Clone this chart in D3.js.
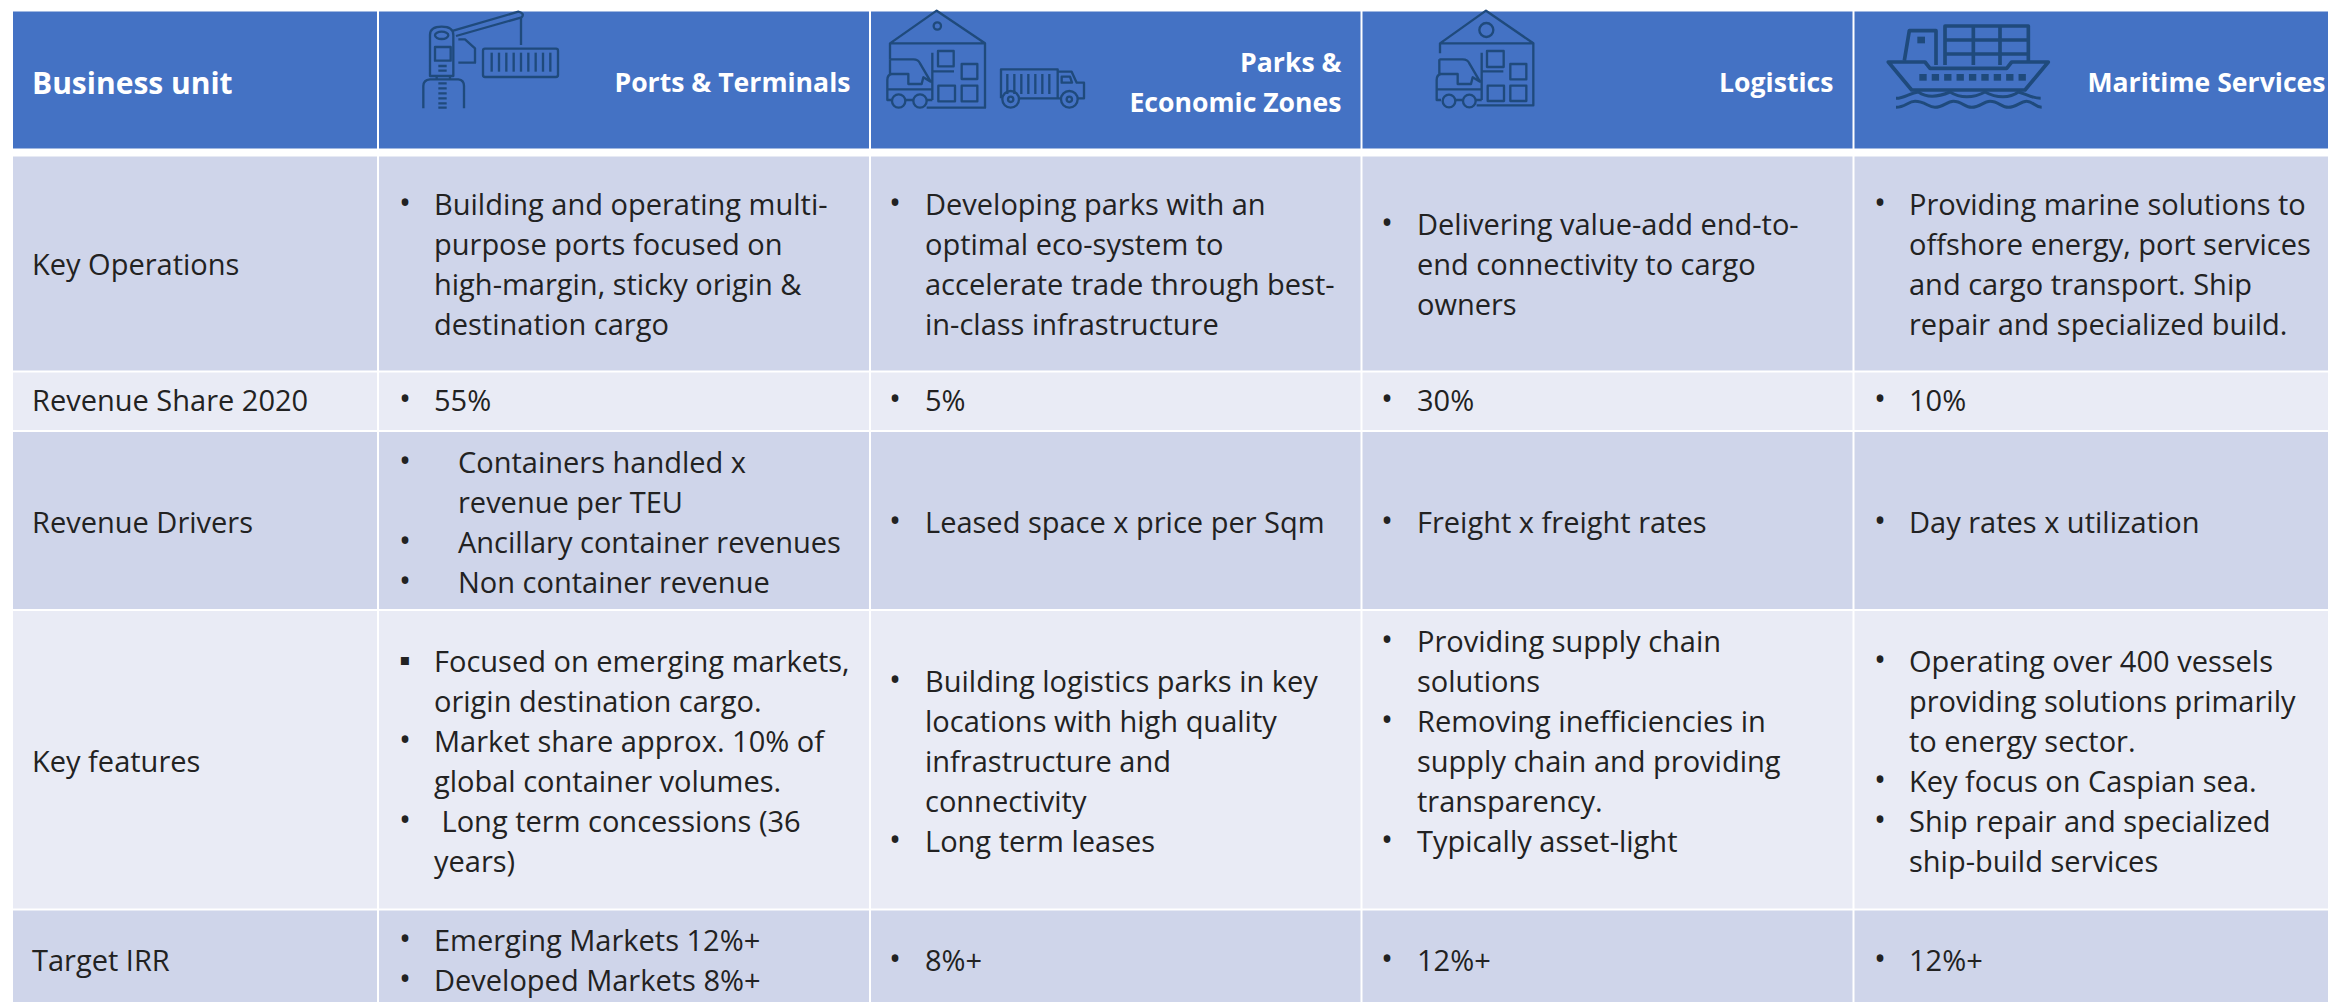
<!DOCTYPE html>
<html><head><meta charset="utf-8">
<script src="https://cdn.jsdelivr.net/npm/d3@7/dist/d3.min.js"></script>
<style>html,body{margin:0;padding:0;background:#fff;overflow:hidden}svg{display:block}text{font-family:"Open Sans",sans-serif;white-space:pre}</style>
</head><body><script>
const cornerLabel = "Business unit";
const unitTitles = [["Ports & Terminals"],["Parks &","Economic Zones"],["Logistics"],["Maritime Services"]];
const rowLabels = ["Key Operations","Revenue Share 2020","Revenue Drivers","Key features","Target IRR"];
const keyOperations = [
 [["Building and operating multi-","purpose ports focused on","high-margin, sticky origin &","destination cargo"]],
 [["Developing parks with an","optimal eco-system to","accelerate trade through best-","in-class infrastructure"]],
 [["Delivering value-add end-to-","end connectivity to cargo","owners"]],
 [["Providing marine solutions to","offshore energy, port services","and cargo transport. Ship","repair and specialized build."]]];
const revenueShare = [[["55%"]],[["5%"]],[["30%"]],[["10%"]]];
const revenueDrivers = [
 [["Containers handled x","revenue per TEU"],["Ancillary container revenues"],["Non container revenue"]],
 [["Leased space x price per Sqm"]],
 [["Freight x freight rates"]],
 [["Day rates x utilization"]]];
const keyFeatures = [
 [["Focused on emerging markets,","origin destination cargo."],["Market share approx. 10% of","global container volumes."],[" Long term concessions (36","years)"]],
 [["Building logistics parks in key","locations with high quality","infrastructure and","connectivity"],["Long term leases"]],
 [["Providing supply chain","solutions"],["Removing inefficiencies in","supply chain and providing","transparency."],["Typically asset-light"],[""]],
 [["Operating over 400 vessels","providing solutions primarily","to energy sector."],["Key focus on Caspian sea."],["Ship repair and specialized","ship-build services"]]];
const targetIrr = [[["Emerging Markets 12%+"],["Developed Markets 8%+"]],[["8%+"]],[["12%+"]],[["12%+"]]];
const rowCells = [keyOperations,revenueShare,revenueDrivers,keyFeatures,targetIrr];

const W=2329,H=1002;
const colEdges=[13,378,870,1361.5,1853.5,2329];
const rowTops=[156.5,372.5,432,611,910.5], rowBottoms=[370.5,430,609,908.5,1002];
const rowMid=[264.5,401,522.5,762,960.5];
const bandFill=["#CFD5EA","#E9EBF5"], headFill="#4472C4", ink="#222222", iconInk="#1F4A7C";
const fs=29, lh=40;
const x=i=>colEdges[i];
const svg=d3.select("body").append("svg").attr("width",W).attr("height",H);

// header
svg.selectAll("rect.head").data(d3.range(5)).join("rect").attr("class","head")
 .attr("x",i=>x(i)+(i?1:0)).attr("y",11.5).attr("width",i=>x(i+1)-x(i)-(i?1:0)-1).attr("height",137).attr("fill",headFill);
svg.append("text").text(cornerLabel).attr("x",32).attr("y",94).attr("fill","#fff").attr("font-weight",700).attr("font-size",30);
unitTitles.forEach((t,c)=>{
  const mid=83; 
  svg.selectAll(null).data(t).join("text").text(d=>d)
   .attr("x",x(c+2)-(c==3?3.5:(c==0?19.5:20))).attr("y",(d,i)=>mid+9+(t.length>1?(i-.5)*lh-0:0))
   .attr("text-anchor","end").attr("fill","#fff").attr("font-weight",700).attr("font-size",26.6);
});

// rows
rowLabels.forEach((lab,r)=>{
  const band=r%2;
  svg.selectAll(null).data(d3.range(5)).join("rect")
   .attr("x",i=>x(i)+(i?1:0)).attr("y",rowTops[r]).attr("width",i=>x(i+1)-x(i)-(i?1:0)-1).attr("height",rowBottoms[r]-rowTops[r]).attr("fill",bandFill[band]);
  svg.append("text").text(lab).attr("x",32).attr("y",rowMid[r]+10).attr("fill",ink).attr("font-size",fs);
  rowCells[r].forEach((bullets,c)=>{
    const n=d3.sum(bullets,b=>b.length);
    let k=0;
    const wide=(r==2&&c==0);
    const ox=[434,925,1417,1909][c], bx=[403,893,1385,1878][c];
    bullets.forEach((lines,bi)=>{
      const y0=rowMid[r]-(n-1)/2*lh+k*lh+10;
      if(lines[0]!=="" ){
        const sq=(r==3&&c==0&&bi==0);
        svg.append("text").text(sq?"▪":"•").attr("x",bx-4).attr("y",y0-1).attr("fill",ink).attr("font-size",fs+3);
      }
      svg.selectAll(null).data(lines).join("text").text(d=>d)
       .attr("x",ox+(wide?24:0)).attr("y",(d,i)=>y0+i*lh).attr("fill",ink).attr("font-size",fs);
      k+=lines.length;
    });
  });
});

// icons (drawn in 3x local units)
function icon(ox){return svg.append("g").attr("transform",`translate(${ox},0) scale(${1/3})`).attr("fill","none").attr("stroke",iconInk).attr("stroke-width",7).attr("stroke-linejoin","round");}
// crane
let g=icon(390);
g.append("path").attr("d","M100 325V258Q100 240 120 238H205Q222 240 222 258V325M120 228V105Q120 80 155 80Q190 80 190 105V228ZM140 228V238M180 228V238M190 92L385 35Q405 40 395 52L198 108M393 55V135M205 118H225L255 145V188H205M145 198H170M145 212H170M145 250H170M145 265H170M145 280H170M145 295H170M145 310H170M145 323H170");
g.append("ellipse").attr("cx",155).attr("cy",106).attr("rx",20).attr("ry",11);
g.append("rect").attr("x",135).attr("y",141).attr("width",47).attr("height",41);
g.append("rect").attr("x",279).attr("y",146).attr("width",225).attr("height",85).attr("rx",6);
g.selectAll(null).data(d3.range(9)).join("path").attr("d",i=>`M${305+i*22} 158V215`);
// forklift shared
const fork="M60 178H130Q145 178 150 190L182 245L160 232L155 252H115V222H65Q52 224 52 240V300H65M107 300H130M170 300H187M52 268H187M60 178V222M187 158V300M187 214H252";
function boxes(s,d){s.forEach(b=>d.append("rect").attr("x",b[0]).attr("y",b[1]).attr("width",b[2]).attr("height",b[3]));}
// parks
g=icon(870);
g.append("path").attr("d","M60 130L200 32L345 130ZM345 130V323H170M60 130V178");
g.append("circle").attr("cx",202).attr("cy",78).attr("r",11);
g.append("path").attr("d",fork);
[86,150].forEach(cx=>g.append("circle").attr("cx",cx).attr("cy",303).attr("r",20));
boxes([[204,153,47,46],[275,192,47,45],[205,257,50,47],[275,257,47,47]],g);
g.append("path").attr("d","M393 295V208H563V295M563 215H605L620 248H642V295H622M575 230H600L606 248H575ZM450 295H572");
d3.range(7).forEach(i=>g.append("path").attr("d",`M${412+i*21} 222V282`));
[422,598].forEach(cx=>{g.append("circle").attr("cx",cx).attr("cy",298).attr("r",25);g.append("circle").attr("cx",cx).attr("cy",298).attr("r",8);});
// logistics
g=icon(1400);
g.append("path").attr("d","M120 130L258 32L400 130ZM400 130V316H230M120 130V160");
g.append("circle").attr("cx",259).attr("cy",90).attr("r",21);
g.append("path").attr("d",fork).attr("transform","translate(58,0)");
[147,208].forEach(cx=>g.append("circle").attr("cx",cx).attr("cy",303).attr("r",19));
boxes([[261,153,50,48],[331,192,48,46],[263,257,49,46],[331,257,48,46]],g);
// ship
g=icon(1860).attr("stroke-width",11);
g.append("path").attr("d","M133 182L148 92H228V195M255 195V78H505V195M255 120H505M255 162H505M340 78V195M420 78V195");
g.append("path").attr("d","M85 186H195L210 205H440L455 186H565L495 270H155Z").attr("fill",headFill);
g.append("path").attr("d","M108 295C135 295 150 278 175 276C195 290 225 295 270 276C300 295 340 295 375 276C410 295 450 295 475 276C495 280 515 295 542 295").attr("stroke-width",9);
g.append("path").attr("d","M108 322C135 322 145 304 165 304C195 304 205 322 225 322C250 322 260 304 280 304C305 304 315 322 335 322C360 322 370 304 390 304C415 304 425 322 445 322C470 322 480 304 500 304C520 304 525 322 545 322").attr("stroke-width",9);
g.append("g").attr("stroke","none").attr("fill",iconInk).selectAll("rect").data(d3.range(9)).join("rect").attr("x",i=>178+i*37.2).attr("y",222).attr("width",22).attr("height",20);
g.append("rect").attr("x",172).attr("y",110).attr("width",23).attr("height",20).attr("fill",iconInk).attr("stroke","none");
</script></body></html>
